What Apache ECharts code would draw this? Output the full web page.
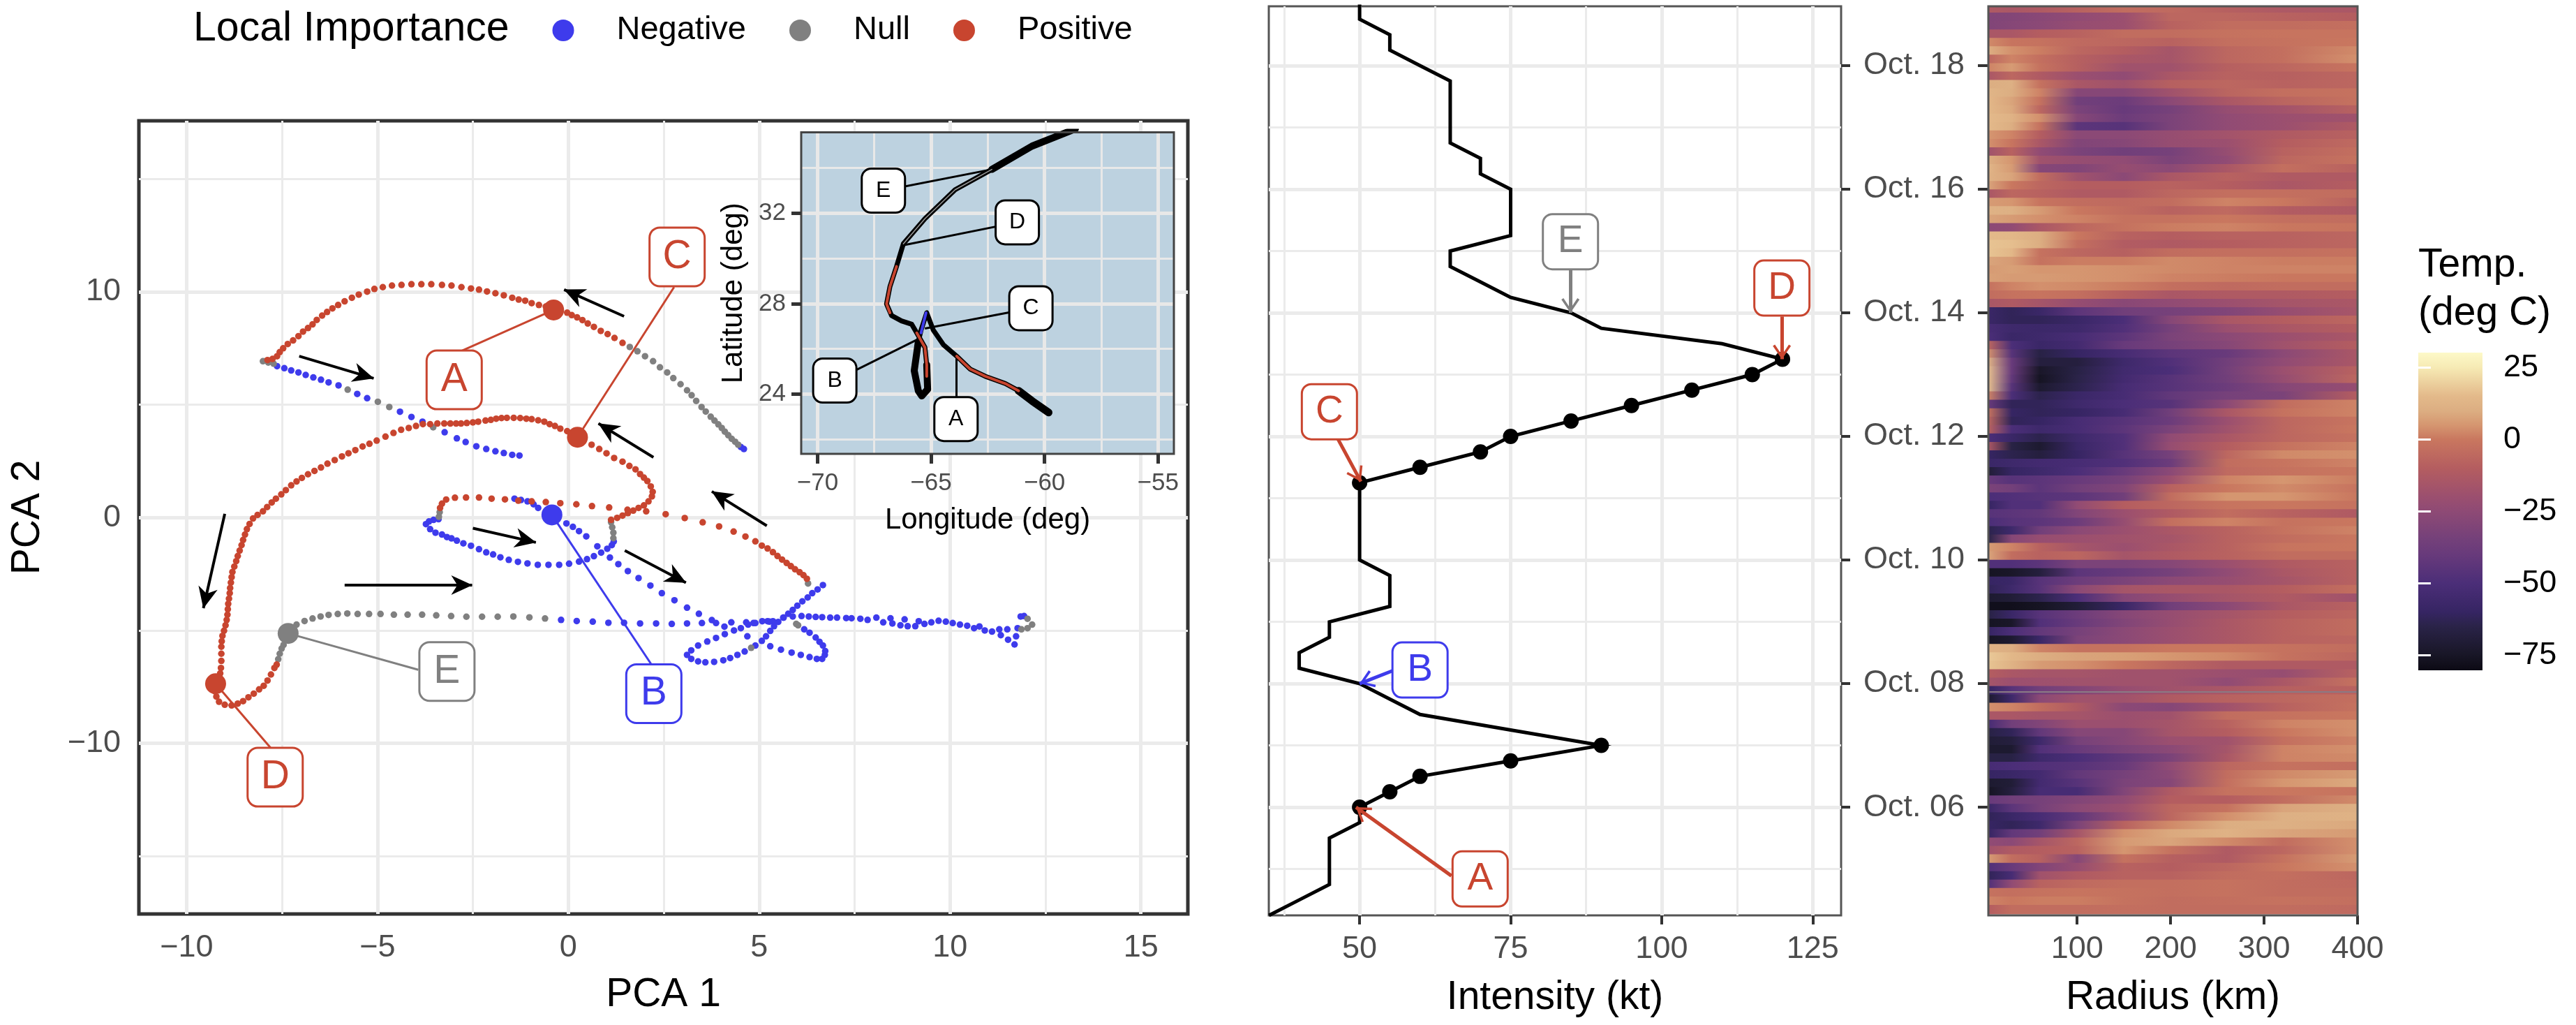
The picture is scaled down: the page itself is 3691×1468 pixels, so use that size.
<!DOCTYPE html>
<html>
<head>
<meta charset="utf-8">
<title>Local importance, intensity and radial temperature</title>
<style>
  html, body { margin: 0; padding: 0; background: #fff; }
  #chart { width: 3691px; height: 1468px; }
</style>
<script src="https://cdn.jsdelivr.net/npm/echarts@6/dist/echarts.min.js"></script>
</head>
<body>
<div id="chart"></div>
<script>
"use strict";

var RED = "#c8452f", BLUE = "#3e3bec", GREY = "#808080";
var FONT = "Liberation Sans";

// ---- PCA panel: points, grouped by local importance
var pcaNegative = [
  [4.52,3.13],[4.60,3.04],
  [-7.63,6.71],[-7.44,6.62],[-7.26,6.52],[-7.07,6.43],[-6.88,6.32],[-6.68,6.21],[-6.48,6.11],[-6.28,5.99],[-6.02,5.86],
  [-5.53,5.48],[-5.27,5.29],[-4.41,4.69],[-4.11,4.46],[-3.82,4.25],[-3.24,3.78],[-2.92,3.51],[-2.69,3.35],[-2.41,3.16],
  [-2.15,3.04],[-1.91,2.94],[-1.69,2.86],[-1.47,2.78],[-1.28,2.75],
  [-1.41,0.84],[-1.24,0.78],[-1.07,0.72],[-0.91,0.59],[-0.79,0.43],
  [-0.05,-0.26],[0.12,-0.41],[0.28,-0.60],[0.47,-0.83],[0.76,-1.27],[1.09,-1.77],[1.31,-2.06],[1.56,-2.37],[1.84,-2.68],
  [2.15,-3.01],[2.45,-3.35],[2.78,-3.66],[3.11,-3.99],[3.42,-4.26],[3.76,-4.54],[3.87,-4.67],[4.09,-4.83],[4.69,-5.26],
  [5.29,-5.70],[5.57,-5.85],[5.85,-5.98],[6.09,-6.08],[6.32,-6.18],[6.51,-6.26],[6.65,-6.26],[6.72,-6.08],[6.73,-5.91],
  [6.67,-5.67],[6.58,-5.50],[6.48,-5.31],[6.32,-5.10],[6.18,-4.95],
  [-3.40,-0.07],[-3.53,-0.10],[-3.65,-0.17],[-3.73,-0.29],[-3.62,-0.51],[-3.48,-0.67],[-3.31,-0.75],[-3.18,-0.86],[-3.06,-0.92],
  [-2.92,-1.02],[-2.75,-1.14],[-2.55,-1.25],[-2.34,-1.40],[-2.15,-1.54],[-1.97,-1.63],[-1.78,-1.76],[-1.56,-1.87],[-1.32,-1.96],
  [-1.07,-2.03],[-0.80,-2.09],[-0.52,-2.09],[-0.24,-2.09],[0.02,-2.04],[0.28,-1.95],[0.49,-1.84],[0.67,-1.71],[0.86,-1.55],
  [1.02,-1.38],[1.14,-1.22],[1.19,-1.06],
  [-0.19,-4.53],[0.22,-4.58],[0.64,-4.61],[1.05,-4.66],[1.46,-4.66],[1.88,-4.69],[2.30,-4.69],[2.71,-4.71],[3.11,-4.69],[3.50,-4.67],
  [4.27,-4.64],[4.66,-4.64],[4.85,-4.67],[5.08,-4.59],[5.22,-4.59],[5.36,-4.59],[5.64,-4.43],[5.88,-4.38],[6.11,-4.36],[6.30,-4.38],
  [6.48,-4.40],[6.65,-4.41],[6.86,-4.43],[7.04,-4.43],[7.28,-4.45],[7.42,-4.46],[7.65,-4.48],[7.84,-4.53],[8.07,-4.43],[8.25,-4.64],
  [8.44,-4.46],[8.49,-4.69],[8.70,-4.77],[8.81,-4.51],[8.89,-4.81],[9.09,-4.81],[9.18,-4.59],[9.33,-4.71],[9.51,-4.64],[9.70,-4.57],
  [9.89,-4.61],[10.07,-4.67],[10.26,-4.74],[10.45,-4.79],[10.63,-4.90],[10.77,-4.82],[10.91,-5.00],[11.10,-5.05],[11.29,-4.95],
  [11.33,-5.21],[11.50,-4.95],[11.52,-5.41],[11.69,-5.62],[11.73,-5.26],[11.77,-4.90],[11.85,-4.38],[11.94,-4.36],
  [6.67,-2.99],[6.53,-3.18],[6.39,-3.35],[6.27,-3.54],[6.13,-3.71],[6.00,-3.90],[5.88,-4.09],[5.76,-4.26],[5.63,-4.43],[5.50,-4.62],
  [5.39,-4.81],[5.29,-5.02],[5.18,-5.26],[5.07,-5.46],[4.90,-5.67],[4.62,-5.93],[4.43,-6.08],[4.24,-6.22],[4.06,-6.32],[3.82,-6.39],
  [3.59,-6.41],[3.40,-6.37],[3.22,-6.26],[3.11,-6.08],[3.22,-5.88],[3.40,-5.67],[3.64,-5.49],[3.87,-5.33],[4.10,-5.16],[4.34,-5.00],
  [4.52,-4.90],[4.71,-4.74],[4.90,-4.67],[5.27,-4.61]
];
var pcaNull = [
  [1.61,7.56],[1.81,7.37],[2.01,7.15],[2.22,6.93],[2.40,6.66],[2.59,6.43],[2.75,6.18],[2.94,5.91],[3.11,5.64],[3.23,5.42],[3.35,5.17],
  [3.49,4.90],[3.60,4.70],[3.73,4.47],[3.83,4.30],[3.93,4.13],[4.02,3.97],[4.10,3.81],[4.19,3.65],[4.28,3.49],[4.37,3.36],[4.45,3.23],
  [-8.00,6.93],[-7.86,6.87],[-7.72,6.82],
  [-5.78,5.67],[-4.99,5.13],[-4.69,4.90],[-3.54,4.00],
  [-7.60,-6.27],[-7.56,-6.03],[-7.51,-5.80],[-7.46,-5.64],
  [-7.12,-4.74],[-6.91,-4.58],[-6.70,-4.47],[-6.49,-4.38],[-6.28,-4.31],[-6.04,-4.27],[-5.79,-4.25],[-5.52,-4.27],[-5.22,-4.27],
  [-4.92,-4.27],[-4.57,-4.30],[-4.21,-4.30],[-3.83,-4.30],[-3.46,-4.33],[-3.07,-4.36],[-2.67,-4.39],[-2.26,-4.39],[-1.85,-4.39],
  [-1.44,-4.38],[-1.02,-4.42],[-0.61,-4.47],
  [1.18,-0.91],[1.18,-0.67],[1.15,-0.43],[1.12,-0.20],
  [-3.39,0.04],[-3.37,0.24],
  [6.28,-2.92],[6.02,-4.77],[5.97,-4.71],[4.79,-5.77],
  [12.03,-4.48],[12.15,-4.74],[12.03,-4.90],[11.87,-4.95]
];
var pcaPositive = [
  [1.42,7.74],[1.21,7.96],[1.03,8.13],[0.85,8.27],[0.67,8.45],[0.51,8.60],[0.37,8.75],[0.23,8.87],[0.09,8.97],[-0.03,9.08],
  [-0.59,9.35],[-0.77,9.42],[-0.96,9.50],[-1.13,9.61],[-1.30,9.66],[-1.47,9.74],[-1.69,9.85],[-1.91,9.94],[-2.13,10.02],[-2.34,10.10],
  [-2.55,10.15],[-2.80,10.21],[-3.06,10.28],[-3.31,10.31],[-3.59,10.34],[-3.85,10.34],[-4.11,10.34],[-4.37,10.31],[-4.62,10.28],
  [-4.86,10.21],[-5.08,10.13],[-5.27,10.01],[-5.49,9.88],[-5.67,9.74],[-5.86,9.58],[-6.03,9.42],[-6.18,9.27],[-6.32,9.11],[-6.45,8.95],
  [-6.59,8.76],[-6.70,8.56],[-6.82,8.40],[-6.95,8.24],[-7.07,8.04],[-7.21,7.85],[-7.35,7.69],[-7.47,7.50],[-7.56,7.33],[-7.63,7.15],
  [-7.75,7.03],[-7.88,6.98],
  [1.12,-0.10],[1.28,-0.01],[1.42,0.09],[1.56,0.20],[1.70,0.31],[1.84,0.43],[1.98,0.54],[2.10,0.72],[2.19,0.94],[2.21,1.14],[2.16,1.38],
  [2.07,1.62],[1.98,1.77],[1.88,1.93],[1.76,2.14],[1.60,2.29],[1.42,2.48],[1.20,2.64],[1.00,2.85],[0.81,3.04],[0.61,3.23],
  [-0.03,3.83],[-0.21,3.94],[-0.35,4.06],[-0.49,4.14],[-0.63,4.25],[-0.79,4.31],[-0.96,4.36],[-1.10,4.38],[-1.26,4.41],[-1.43,4.42],
  [-1.61,4.42],[-1.75,4.41],[-1.89,4.38],[-2.03,4.33],[-2.17,4.30],[-2.36,4.25],[-2.50,4.22],[-2.66,4.19],[-2.81,4.17],[-2.94,4.17],
  [-3.09,4.17],[-3.25,4.17],[-3.43,4.17],[-3.62,4.14],[-3.81,4.14],[-3.99,4.06],[-4.18,3.97],[-4.38,3.89],[-4.58,3.75],[-4.79,3.59],
  [-5.02,3.41],[-5.21,3.27],[-5.39,3.15],[-5.58,2.99],[-5.76,2.85],[-5.93,2.71],[-6.12,2.55],[-6.31,2.39],[-6.48,2.22],[-6.65,2.07],
  [-6.82,1.92],[-6.98,1.76],[-7.12,1.60],[-7.26,1.43],[-7.40,1.22],[-7.52,1.03],[-7.66,0.84],[-7.77,0.67],[-7.89,0.47],[-8.00,0.28],
  [-8.14,0.12],[-8.26,-0.04],[-8.35,-0.28],[-8.42,-0.51],[-8.47,-0.75],[-8.52,-0.99],[-8.56,-1.22],[-8.61,-1.46],[-8.66,-1.70],
  [-8.70,-1.93],[-8.75,-2.17],[-8.80,-2.41],[-8.82,-2.64],[-8.84,-2.88],[-8.86,-3.12],[-8.87,-3.35],[-8.89,-3.59],[-8.91,-3.82],
  [-8.92,-4.06],[-8.93,-4.30],[-8.95,-4.53],[-8.98,-4.77],[-9.02,-5.01],[-9.06,-5.24],[-9.08,-5.48],[-9.09,-5.72],[-9.09,-6.03],
  [-9.09,-6.35],[-9.10,-6.66],[-9.12,-6.90],[-9.26,-7.69],[-9.22,-7.93],[-9.15,-8.16],[-9.00,-8.29],[-8.82,-8.32],[-8.66,-8.24],
  [-8.52,-8.13],[-8.38,-7.96],[-8.24,-7.80],[-8.10,-7.61],[-7.98,-7.45],[-7.88,-7.22],[-7.79,-6.95],[-7.70,-6.66],[-7.64,-6.51],
  [-3.36,0.43],[-3.31,0.62],[-3.20,0.80],[-2.97,0.88],[-2.68,0.89],[-2.34,0.89],[-2.01,0.84],[-1.66,0.81],[-1.31,0.75],[-0.96,0.72],
  [-0.59,0.69],[-0.21,0.64],[0.21,0.59],[0.62,0.51],[1.07,0.45],[1.55,0.35],[2.04,0.28],[2.55,0.15],[3.05,-0.02],[3.52,-0.21],
  [3.95,-0.39],[4.33,-0.62],[4.64,-0.84],[4.90,-1.05],[5.07,-1.24],[5.22,-1.37],[5.36,-1.53],[5.48,-1.70],[5.60,-1.86],[5.72,-2.01],
  [5.83,-2.15],[5.94,-2.29],[6.06,-2.42],[6.16,-2.55],[6.25,-2.71]
];

var pcaKeyNames = ["A", "B", "C", "D", "E"];
var pcaKeyPoints = [[-0.385, 9.2], [-0.43, 0.12], [0.24, 3.56], [-9.24, -7.36], [-7.34, -5.13]];
var pcaKeyColors = [RED, BLUE, RED, RED, GREY];
var pcaBoxes = [[-2.99, 6.1], [2.24, -7.8], [2.85, 11.55], [-7.68, -11.5], [-3.18, -6.82]];
var pcaBoxAnchors = [[-2.78, 7.4], [2.19, -6.54], [2.77, 10.21], [-7.8, -10.2], [-3.93, -6.74]];

var pcaArrows = [
  [[1.46, 8.92], [-0.11, 10.1]],
  [[-7.05, 7.15], [-5.1, 6.17]],
  [[2.23, 2.67], [0.79, 4.17]],
  [[-9, 0.17], [-9.56, -4.01]],
  [[-5.86, -2.99], [-2.52, -2.99]],
  [[-2.5, -0.47], [-0.85, -1.1]],
  [[1.48, -1.46], [3.08, -2.88]],
  [[5.2, -0.36], [3.76, 1.16]]
];

var pcaXTicks = [-10, -5, 0, 5, 10, 15];
var pcaXMinor = [-7.5, -2.5, 2.5, 7.5, 12.5];
var pcaYTicks = [-10, 0, 10];
var pcaYMinor = [-15, -5, 5, 15];

// ---- inset map: storm track (lon, lat)
var trackAll = [
  [-59.82,23.19],[-60.55,23.70],[-61.14,24.15],[-61.73,24.47],[-62.61,24.79],[-63.28,25.11],[-63.87,25.68],[-64.46,26.19],
  [-64.90,26.83],[-65.19,27.60],[-65.44,26.83],[-65.56,26.32],[-65.74,25.04],[-65.56,24.15],[-65.41,23.92],[-65.15,24.21],
  [-65.19,25.30],[-65.27,26.07],[-65.63,26.71],[-65.85,27.09],[-66.30,27.24],[-66.74,27.48],[-66.96,27.99],[-66.81,28.76],
  [-66.52,29.65],[-66.22,30.65],[-65.27,31.76],[-63.94,33.04],[-62.32,33.94],[-60.55,34.97],[-58.64,35.73]
];
var trackHeavyStart = [[-59.82,23.19],[-60.55,23.70],[-61.14,24.15]];
var trackHeavyLoop = [[-65.56,26.32],[-65.74,25.04],[-65.56,24.15],[-65.41,23.92],[-65.15,24.21],[-65.19,25.30]];
var trackHeavyEnd = [[-62.32,33.94],[-60.55,34.97],[-58.64,35.73]];
var trackRedA = [[-61.14,24.15],[-61.73,24.47],[-62.61,24.79],[-63.28,25.11],[-63.87,25.68]];
var trackRedB = [[-65.19,24.79],[-65.19,25.30],[-65.27,26.07],[-65.63,26.71]];
var trackRedC = [[-66.81,27.60],[-66.96,27.99],[-66.81,28.76],[-66.52,29.65]];
var trackBlue = [[-65.22,27.60],[-65.44,26.71]];
var trackGrey = [[-66.22,30.65],[-65.27,31.76],[-63.94,33.04],[-62.32,33.94]];

var insetBoxes = [[-63.9, 22.9], [-69.24, 24.6], [-60.6, 27.8], [-61.2, 31.6], [-67.1, 33.0]];
var insetTips = [[-63.9, 25.7], [-65.44, 26.5], [-65.27, 26.9], [-66.15, 30.6], [-62.32, 33.94]];
var insetXTicks = [-70, -65, -60, -55];
var insetXMinor = [-67.5, -62.5, -57.5];
var insetYTicks = [24, 28, 32];
var insetYMinor = [22, 26, 30, 34];

// ---- intensity panel
var intensityDays = [4.25,4.5,4.75,5,5.25,5.5,5.75,6,6.25,6.5,6.75,7,7.25,7.5,7.75,8,8.25,8.5,8.75,9,9.25,9.5,9.75,10,10.25,10.5,10.75,11,11.25,
  11.5,11.75,12,12.25,12.5,12.75,13,13.25,13.5,13.75,14,14.25,14.5,14.75,15,15.25,15.5,15.75,16,16.25,16.5,16.75,17,17.25,17.5,17.75,18,18.25,18.5,18.75,19];
var intensityKt = [35,40,45,45,45,45,50,50,55,60,75,90,75,60,55,50,40,40,45,45,55,55,55,50,50,50,50,50,50,
  60,70,75,85,95,105,115,120,110,90,85,75,70,65,65,75,75,75,75,70,70,65,65,65,65,65,60,55,55,50,50];
var markedDays = [6,6.25,6.5,6.75,7,11.25,11.5,11.75,12,12.25,12.5,12.75,13,13.25];
var markedKt = [50,55,60,75,90,50,60,70,75,85,95,105,115,120];

var intensityTicks = [50, 75, 100, 125];
var intensityMinor = [37.5, 62.5, 87.5, 112.5];
var dayTicks = [6, 8, 10, 12, 14, 16, 18];
var dayLabels = ["Oct. 06", "Oct. 08", "Oct. 10", "Oct. 12", "Oct. 14", "Oct. 16", "Oct. 18"];
var dayMinor = [5, 7, 9, 11, 13, 15, 17];

var eventNames = ["A", "B", "C", "D", "E"];
var eventColors = [RED, BLUE, RED, RED, GREY];
var eventBoxes = [[69.95, 4.84], [60, 8.22], [45, 12.4], [119.9, 14.4], [84.9, 15.15]];
var eventStarts = [[65.2, 4.89], [55.5, 8.21], [46.4, 11.96], [119.9, 13.94], [84.9, 14.71]];
var eventTips = [[49.4, 6], [50, 8], [50.2, 11.27], [119.9, 13.25], [84.9, 14]];

// ---- radial temperature panel: rows from the top of the panel down, columns at radiusKm
var radiusKm = [5, 30, 60, 100, 150, 200, 260, 320, 400];
var radiusTicks = [100, 200, 300, 400];
var dayMin = 4.25, dayMax = 18.96;
var tempRows = [
  [-12,-14,-12,-8,-4,-5,-9,-13,-14],
  [-30,-29,-27,-24,-20,-6,-6,-8,-10],
  [-30,-28,-26,-22,-20,-8,-4,-4,-3],
  [-14,-14,-10,-8,-4,-4,-2,-1,-1],
  [3,-1,-2,-5,-6,-8,-3,-2,0],
  [10,4,1,-6,-10,-16,-6,-3,3],
  [-6,2,-3,-9,-14,-16,-6,-3,4],
  [2,6,-2,-9,-18,-18,-9,-6,-1],
  [-14,-6,-12,-20,-24,-14,-8,-9,-6],
  [10,11,-2,-14,-18,-9,-6,-8,-6],
  [13,10,2,-28,-28,-18,-7,-3,-2],
  [14,8,-2,-36,-38,-26,-14,-7,-2],
  [14,9,-6,-32,-40,-34,-22,-17,-8],
  [15,12,4,-28,-38,-32,-24,-20,-18],
  [15,10,-2,-44,-46,-32,-24,-20,-12],
  [5,2,-10,-26,-26,-22,-17,-12,-8],
  [4,-1,-14,-30,-28,-22,-20,-10,-5],
  [-18,-8,-24,-32,-36,-34,-22,-8,-3],
  [10,5,-18,-22,-24,-32,-24,-6,-2],
  [13,6,-28,-30,-22,-26,-14,-3,-8],
  [12,8,-4,-18,-26,-14,-8,-12,-12],
  [8,0,-6,-10,-10,-8,-10,-14,-10],
  [-14,-6,-8,-12,-12,-6,-3,-3,-4],
  [6,5,-1,-4,-5,-4,2,0,-8],
  [12,11,6,0,-4,-8,-5,-11,-12],
  [8,6,4,2,-2,-2,0,-3,-4],
  [-26,-24,-14,-6,-2,1,2,0,-1],
  [15,14,10,0,-8,-10,-8,-8,-6],
  [17,16,10,-3,-11,-12,-10,-8,-6],
  [17,14,-2,-6,-9,-4,-3,-3,-2],
  [8,6,-2,1,1,3,2,1,1],
  [6,7,5,5,4,3,2,2,2],
  [7,6,6,5,4,2,1,0,0],
  [-2,2,4,3,1,-3,-5,-4,-4],
  [-4,-2,-1,-3,-9,-14,-12,-12,-10],
  [-14,-12,-16,-22,-27,-24,-20,-16,-14],
  [-58,-62,-58,-44,-36,-34,-30,-22,-15],
  [-58,-62,-62,-58,-50,-28,-14,-10,-6],
  [-52,-56,-57,-56,-48,-34,-20,-14,-10],
  [-50,-58,-56,-52,-44,-32,-26,-20,-14],
  [-6,-50,-58,-54,-40,-34,-28,-18,-10],
  [4,-46,-66,-60,-52,-44,-40,-26,-14],
  [12,-40,-68,-68,-56,-48,-36,-24,-14],
  [16,-40,-74,-66,-55,-50,-35,-20,-8],
  [16,-42,-76,-65,-54,-46,-36,-22,-6],
  [16,-46,-72,-64,-52,-46,-38,-28,-22],
  [2,-50,-64,-58,-52,-42,-34,-32,-10],
  [-40,-62,-62,-56,-50,-46,-26,-4,2],
  [-2,-60,-62,-60,-52,-36,-14,-2,2],
  [-6,-62,-60,-52,-46,-38,-20,-6,-1],
  [-8,-50,-56,-52,-44,-32,-18,-6,0],
  [-50,-58,-64,-56,-48,-24,-14,-6,-2],
  [-14,-66,-72,-58,-48,-22,-10,-2,2],
  [-60,-64,-68,-60,-46,-34,-6,3,4],
  [-58,-56,-54,-52,-48,-38,-4,-1,2],
  [-70,-60,-56,-50,-40,-26,-5,-2,0],
  [-40,-46,-44,-40,-34,-20,2,5,1],
  [-32,-35,-44,-36,-30,-8,0,3,-1],
  [-50,-48,-46,-44,-36,-4,5,5,0],
  [-60,-48,-48,-24,-10,-6,-1,0,-2],
  [-46,-44,-42,-30,-20,-12,-4,-8,-12],
  [-50,-46,-44,-38,-22,-3,2,-2,0],
  [-64,-56,-36,-26,-20,-14,-8,-2,2],
  [-65,-28,-22,-20,-18,-16,-8,-4,0],
  [6,2,-8,-16,-20,-14,-8,-1,0],
  [8,-4,-8,-6,-16,-12,-8,-4,-4],
  [-48,-48,-44,-32,-32,-28,-20,-12,-8],
  [-76,-74,-68,-44,-40,-34,-24,-14,-8],
  [-60,-58,-46,-38,-32,-26,-22,-16,-8],
  [-62,-56,-46,-26,-16,-14,-14,-10,-3],
  [-72,-70,-64,-50,-28,-22,-16,-12,-18],
  [-78,-78,-76,-70,-58,-36,-26,-14,-8],
  [-66,-58,-46,-38,-28,-22,-16,-10,-6],
  [-76,-74,-48,-40,-30,-22,-14,-8,-4],
  [-60,-50,-42,-34,-26,-20,-14,-8,-4],
  [-76,-72,-58,-32,-26,-20,-14,-8,-6],
  [12,10,2,-2,-2,0,0,-2,-4],
  [18,14,10,8,7,5,3,-2,-6],
  [17,12,6,4,0,-6,-12,-12,-12],
  [-10,-14,-16,-16,-18,-18,-20,-22,-8],
  [-16,-20,-19,-18,-18,-18,-24,-14,-2],
  [-60,-46,-36,-30,-22,-18,-14,-9,-8],
  [-72,-56,-26,-18,-18,-12,-8,-6,-3],
  [4,2,-4,-12,-26,-28,-18,-8,-2],
  [-14,-14,-16,-16,-20,-18,-4,-2,0],
  [-52,-36,-30,-20,-20,-16,-8,2,4],
  [-66,-62,-42,-28,-28,-16,-10,0,4],
  [-70,-68,-56,-34,-28,-20,-18,-3,2],
  [-72,-72,-48,-40,-32,-26,-16,2,4],
  [-66,-66,-56,-50,-42,-32,-14,2,3],
  [-52,-50,-48,-46,-40,-24,-6,-2,-3],
  [-60,-58,-54,-42,-34,-26,-4,3,6],
  [-72,-70,-54,-46,-32,-28,-3,5,9],
  [-76,-68,-52,-52,-30,-12,-2,0,-1],
  [-40,-36,-34,-30,-24,-10,-10,-4,3],
  [-58,-44,-34,-26,-20,-6,-2,8,11],
  [-62,-58,-52,-42,-24,-6,4,11,12],
  [-60,-62,-56,-32,-8,3,10,11,9],
  [-60,-42,-36,-16,4,9,12,8,6],
  [-24,-26,-16,-6,6,8,3,-4,4],
  [-18,-12,-10,-8,5,-2,-12,-6,4],
  [6,-4,-8,-28,-2,-9,-12,-2,6],
  [-48,-40,-30,-22,-8,-10,-6,0,4],
  [-62,-52,-18,-12,-8,-8,-4,-3,-6],
  [-48,-24,-8,-5,-3,-3,-2,-4,-5],
  [-2,-3,-2,-1,-2,-3,-2,-4,-4],
  [2,0,1,1,-2,-4,-3,-2,-3],
  [-10,-4,-4,-4,-3,-4,-4,-4,-5]
];
var missingScanDay = 7.87;

// colour bar
var tempTicks = [-75, -50, -25, 0, 25];
var tempMin = -80.3, tempMax = 30.2;
var paletteValues = [-80.3, -75, -65, -60, -50, -40, -35, -25, -20, -10, 0, 5, 10, 15, 25, 30.2];
var paletteColors = ["#0c0a14", "#181626", "#2a2348", "#362563", "#4b2e78", "#683a7b", "#73407a", "#8e4a75",
  "#9b4f6f", "#b45d60", "#c9775f", "#d59670", "#dcae82", "#e3b98a", "#f6eab4", "#fdf9c8"];

// arrow heads: the two zero-area strokes square the path's box so the tip sits on the line end
var CLOSED_HEAD = "path://M-30,0 L30,0 Z M0,-30 L0,30 Z M0,0 L14,31 L0,22 L-14,31 Z";
var OPEN_HEAD = "path://M-30,0 L30,0 Z M0,-30 L0,30 Z M0,0 L13,19 L10,21 L0,6 L-10,21 L-13,19 Z";

function tempColor(v) {
  for (var i = 1; i < paletteValues.length; i++) {
    if (v <= paletteValues[i]) {
      var t = (v - paletteValues[i - 1]) / (paletteValues[i] - paletteValues[i - 1]);
      return echarts.color.lerp(Math.max(t, 0), [paletteColors[i - 1], paletteColors[i]]);
    }
  }
  return paletteColors[paletteColors.length - 1];
}

function minusSign(v) {
  return String(v).replace("-", "\u2212");
}

// background grid lines, drawn as a mark line so they can stack with the inset
function gridLines(name, xi, yi, lines, color, z) {
  var data = [];
  lines.xMajor.forEach(function (v) { data.push({ xAxis: v, lineStyle: { width: lines.major, color: color, type: "solid" } }); });
  lines.xMinor.forEach(function (v) { data.push({ xAxis: v, lineStyle: { width: lines.minor, color: color, type: "solid" } }); });
  lines.yMajor.forEach(function (v) { data.push({ yAxis: v, lineStyle: { width: lines.major, color: color, type: "solid" } }); });
  lines.yMinor.forEach(function (v) { data.push({ yAxis: v, lineStyle: { width: lines.minor, color: color, type: "solid" } }); });
  return {
    name: name, type: "scatter", xAxisIndex: xi, yAxisIndex: yi, data: [], silent: true, z: z,
    markLine: { silent: true, symbol: "none", z: z, animation: false, label: { show: false }, emphasis: { disabled: true }, data: data }
  };
}

function segments(name, xi, yi, pairs, opts) {
  return {
    name: name, type: "scatter", xAxisIndex: xi, yAxisIndex: yi, data: [], silent: true, z: opts.z,
    markLine: {
      silent: true, animation: false, z: opts.z, precision: 4,
      symbol: opts.symbol || "none", symbolSize: opts.symbolSize || 0,
      label: { show: false }, emphasis: { disabled: true },
      data: pairs.map(function (p, i) {
        return [
          { coord: p[0], symbol: "none" },
          { coord: p[1], lineStyle: { color: opts.colors ? opts.colors[i] : opts.color, width: opts.width, type: "solid", opacity: 1 } }
        ];
      })
    }
  };
}

function boxes(name, xi, yi, names, points, colors, st) {
  return {
    name: name, type: "scatter", xAxisIndex: xi, yAxisIndex: yi, symbolSize: 1, z: st.z, silent: true,
    itemStyle: { color: "rgba(0,0,0,0)", opacity: 1 },
    data: points.map(function (p, i) {
      return {
        name: names[i], value: p,
        label: {
          show: true, position: "inside", formatter: "{b}", fontFamily: FONT, fontSize: st.fontSize,
          color: colors[i], borderColor: colors[i], borderWidth: st.border, borderRadius: st.radius,
          backgroundColor: "#fff", width: st.width, height: st.height, lineHeight: st.height,
          align: "center", verticalAlign: "middle"
        }
      };
    })
  };
}

function trackLine(name, data, color, width, z) {
  return {
    name: name, type: "line", xAxisIndex: 1, yAxisIndex: 1, data: data, showSymbol: false, silent: true, z: z,
    lineStyle: { color: color, width: width, cap: "round", join: "round" }
  };
}

function dots(name, data, color) {
  return {
    name: name, type: "scatter", xAxisIndex: 0, yAxisIndex: 0, data: data, symbolSize: 9.5, z: 4, silent: true,
    itemStyle: { color: color, opacity: 1 }
  };
}

function pairUp(a, b) {
  return a.map(function (v, i) { return [v, b[i]]; });
}

function frameOf(name, xi, yi, color, width, z) {
  return {
    name: name, type: "custom", xAxisIndex: xi, yAxisIndex: yi, data: [[0, 0]], z: z, silent: true, clip: false,
    renderItem: function (params) {
      var c = params.coordSys;
      return { type: "rect", shape: { x: c.x, y: c.y, width: c.width, height: c.height }, style: { fill: "none", stroke: color, lineWidth: width } };
    }
  };
}

// every row is painted twice, half a row apart, to soften the steps between rows
var heatSeries = {
  name: "Temperature", type: "custom", xAxisIndex: 3, yAxisIndex: 3, silent: true, z: 2, clip: true,
  data: tempRows.map(function (row, i) { return [i]; }),
  encode: { x: [], y: [] },
  renderItem: function (params, api) {
    var i = api.value(0), step = (dayMax - dayMin) / tempRows.length;
    var a = api.coord([radiusKm[0], dayMax - i * step]);
    var b = api.coord([radiusKm[radiusKm.length - 1], dayMax - (i + 1) * step]);
    var span = radiusKm[radiusKm.length - 1] - radiusKm[0];
    var h = b[1] - a[1];
    var fill = new echarts.graphic.LinearGradient(0, 0, 1, 0, radiusKm.map(function (r, k) {
      return { offset: (r - radiusKm[0]) / span, color: tempColor(tempRows[i][k]) };
    }));
    return {
      type: "group",
      children: [
        { type: "rect", shape: { x: a[0], y: a[1] - h / 4, width: b[0] - a[0], height: h + 1 }, style: { fill: fill } },
        { type: "rect", shape: { x: a[0], y: a[1] + h / 4, width: b[0] - a[0], height: h + 1 }, style: { fill: fill, opacity: 0.5 } }
      ]
    };
  }
};

var colourBarSeries = {
  name: "Colour bar", type: "custom", xAxisIndex: 4, yAxisIndex: 4, silent: true, z: 2,
  data: [[0, tempMax]],
  renderItem: function (params) {
    var c = params.coordSys;
    return {
      type: "rect",
      shape: { x: c.x, y: c.y, width: c.width, height: c.height },
      style: {
        fill: new echarts.graphic.LinearGradient(0, 1, 0, 0, paletteValues.map(function (v, k) {
          return { offset: (v - tempMin) / (tempMax - tempMin), color: paletteColors[k] };
        }))
      }
    };
  }
};

function axisBase(min, max, ticks, st) {
  return {
    type: "value", min: min, max: max, scale: true, z: st.z || 0,
    splitLine: { show: false },
    axisLine: { show: false },
    axisTick: { show: st.tick !== false, customValues: ticks, length: st.tickLen || 15, lineStyle: { color: "#333", width: st.tickWidth || 5 } },
    axisLabel: {
      show: st.label !== false, customValues: ticks, fontFamily: FONT, fontSize: st.fontSize || 45, color: "#4d4d4d",
      margin: st.margin || 26, formatter: st.formatter || minusSign, hideOverlap: false, showMinLabel: true, showMaxLabel: true,
      padding: st.labelPad || 0
    },
    name: st.name || "", nameLocation: "middle", nameGap: st.nameGap || 0,
    nameTextStyle: { fontFamily: FONT, fontSize: st.nameSize || 57, color: "#000" }
  };
}

var option = {
  animation: false,
  backgroundColor: "#fff",
  textStyle: { fontFamily: FONT },
  legend: {
    left: 791.5, top: 20, padding: 0, itemWidth: 31, itemHeight: 31, itemGap: 62, icon: "circle", selectedMode: false,
    textStyle: { fontFamily: FONT, fontSize: 47, color: "#000", padding: [0, 0, 0, 56] },
    data: ["Negative", "Null", "Positive"]
  },
  graphic: [
    { type: "text", left: 277, top: 12, style: { text: "Local Importance", font: "59px " + FONT, fill: "#000" } },
    { type: "text", left: 3465, top: 352, style: { text: "Temp.", font: "57px " + FONT, fill: "#000" } },
    { type: "text", left: 3465, top: 421, style: { text: "(deg C)", font: "57px " + FONT, fill: "#000" } }
  ],
  grid: [
    { left: 199, top: 173, width: 1503, height: 1136, show: true, borderColor: "#333", borderWidth: 5, backgroundColor: "transparent" },
    { left: 1148, top: 189.5, width: 534, height: 460.5, show: false },
    { left: 1818, top: 9, width: 820, height: 1302, show: true, borderColor: "#555", borderWidth: 3, backgroundColor: "transparent" },
    { left: 2849, top: 9, width: 529, height: 1302, show: false },
    { left: 3465, top: 505, width: 92, height: 455, show: false }
  ],
  xAxis: [
    Object.assign(axisBase(-11.25, 16.23, pcaXTicks, { name: "PCA 1", nameGap: 88 }), { gridIndex: 0 }),
    Object.assign(axisBase(-70.72, -54.3, insetXTicks, { name: "Longitude (deg)", nameSize: 42, fontSize: 35, tickLen: 14, margin: 25, nameGap: 74, z: 20 }), { gridIndex: 1 }),
    Object.assign(axisBase(34.97, 129.7, intensityTicks, { name: "Intensity (kt)", nameGap: 90, tickLen: 13, tickWidth: 4 }), { gridIndex: 2 }),
    Object.assign(axisBase(5, 400, radiusTicks, { name: "Radius (km)", nameGap: 90, tickLen: 13, tickWidth: 4 }), { gridIndex: 3 }),
    Object.assign(axisBase(0, 1, [], { tick: false, label: false }), { gridIndex: 4, show: false })
  ],
  yAxis: [
    Object.assign(axisBase(-17.56, 17.58, pcaYTicks, { name: "PCA 2", nameGap: 130, labelPad: [5, 0, 0, 0] }), { gridIndex: 0 }),
    Object.assign(axisBase(21.36, 35.58, insetYTicks, { name: "Latitude (deg)", nameSize: 42, fontSize: 35, tickLen: 14, margin: 22, nameGap: 76, z: 20, labelPad: [4, 0, 0, 0] }), { gridIndex: 1 }),
    Object.assign(axisBase(4.25, 18.96, dayTicks, {
      tickLen: 13, tickWidth: 4, margin: 32, labelPad: [6, 0, 0, 0],
      formatter: function (v) { return dayLabels[dayTicks.indexOf(v)]; }
    }), { gridIndex: 2, position: "right" }),
    Object.assign(axisBase(4.25, 18.96, dayTicks, { label: false, tickLen: 15, tickWidth: 4 }), { gridIndex: 3 }),
    {
      type: "value", gridIndex: 4, min: tempMin, max: tempMax, position: "right", z: 8,
      splitLine: { show: false }, axisLine: { show: false },
      axisTick: { show: true, inside: true, length: 18, customValues: tempTicks, lineStyle: { color: "#fff", width: 3 } },
      axisLabel: { customValues: tempTicks, fontFamily: FONT, fontSize: 45, color: "#000", margin: 30, formatter: minusSign, padding: [5, 0, 0, 0] }
    },
    {
      type: "value", gridIndex: 4, min: tempMin, max: tempMax, position: "left", z: 8,
      splitLine: { show: false }, axisLine: { show: false }, axisLabel: { show: false },
      axisTick: { show: true, inside: true, length: 18, customValues: tempTicks, lineStyle: { color: "#fff", width: 3 } }
    }
  ],
  series: [
    // main panel
    gridLines("PCA grid", 0, 0, { xMajor: pcaXTicks, xMinor: pcaXMinor, yMajor: pcaYTicks, yMinor: pcaYMinor, major: 5, minor: 3 }, "#ebebeb", 1),
    dots("Negative", pcaNegative, BLUE),
    dots("Null", pcaNull, GREY),
    dots("Positive", pcaPositive, RED),
    segments("PCA arrows", 0, 0, pcaArrows, { z: 5, color: "#000", width: 4, symbol: ["none", CLOSED_HEAD], symbolSize: 60 }),
    segments("PCA leaders", 0, 0, pcaKeyPoints.map(function (p, i) { return [pcaBoxAnchors[i], p]; }), { z: 3, colors: pcaKeyColors, width: 3 }),
    {
      name: "PCA events", type: "scatter", xAxisIndex: 0, yAxisIndex: 0, symbolSize: 30, z: 5, silent: true,
      data: pcaKeyPoints.map(function (p, i) { return { value: p, itemStyle: { color: pcaKeyColors[i], opacity: 1 } }; })
    },
    boxes("PCA boxes", 0, 0, pcaKeyNames, pcaBoxes, pcaKeyColors, { z: 6, fontSize: 57, border: 3, radius: 13, width: 76, height: 81 }),

    // inset
    {
      name: "Inset panel", type: "custom", xAxisIndex: 1, yAxisIndex: 1, data: [[-60, 28]], z: 7, silent: true, clip: false,
      renderItem: function (params) {
        var c = params.coordSys;
        return { type: "rect", shape: { x: c.x, y: c.y, width: c.width, height: c.height }, style: { fill: "#bdd2e0" } };
      }
    },
    gridLines("Inset grid", 1, 1, { xMajor: insetXTicks, xMinor: insetXMinor, yMajor: insetYTicks, yMinor: insetYMinor, major: 5, minor: 3 }, "#e8e8e8", 8),
    segments("Inset leaders", 1, 1, insetTips.map(function (p, i) { return [insetBoxes[i], p]; }), { z: 9, color: "#000", width: 3 }),
    trackLine("Track", trackAll, "#000", 7, 10),
    trackLine("Track heavy start", trackHeavyStart, "#000", 11, 10),
    trackLine("Track heavy loop", trackHeavyLoop, "#000", 10, 10),
    trackLine("Track heavy end", trackHeavyEnd, "#000", 10, 10),
    trackLine("Track positive A", trackRedA, RED, 4, 11),
    trackLine("Track positive B", trackRedB, RED, 4, 11),
    trackLine("Track positive C", trackRedC, RED, 4, 11),
    trackLine("Track negative", trackBlue, BLUE, 4, 11),
    trackLine("Track null", trackGrey, "#9a9a9a", 1.5, 11),
    boxes("Inset boxes", 1, 1, pcaKeyNames, insetBoxes, ["#000", "#000", "#000", "#000", "#000"], { z: 12, fontSize: 32, border: 3, radius: 12, width: 59, height: 60 }),
    frameOf("Inset frame", 1, 1, "#444", 3, 13),

    // intensity panel
    gridLines("Intensity grid", 2, 2, { xMajor: intensityTicks, xMinor: intensityMinor, yMajor: dayTicks, yMinor: dayMinor, major: 5, minor: 3 }, "#ebebeb", 1),
    {
      name: "Intensity", type: "line", xAxisIndex: 2, yAxisIndex: 2, data: pairUp(intensityKt, intensityDays), showSymbol: false, silent: true, z: 3,
      lineStyle: { color: "#000", width: 5, join: "miter" }
    },
    {
      name: "Marked", type: "scatter", xAxisIndex: 2, yAxisIndex: 2, data: pairUp(markedKt, markedDays), symbolSize: 22, z: 4, silent: true,
      itemStyle: { color: "#000", opacity: 1 }
    },
    segments("Intensity arrows", 2, 2, eventStarts.map(function (p, i) { return [p, eventTips[i]]; }), {
      z: 5, colors: eventColors, width: 5, symbol: ["none", OPEN_HEAD], symbolSize: 60
    }),
    boxes("Intensity boxes", 2, 2, eventNames, eventBoxes, eventColors, { z: 6, fontSize: 55, border: 3, radius: 12, width: 76, height: 76 }),

    // temperature panel
    heatSeries,
    gridLines("Missing scan", 3, 3, { xMajor: [], xMinor: [], yMajor: [missingScanDay], yMinor: [], major: 2, minor: 2 }, "#8a7a84", 3),
    frameOf("Heat frame", 3, 3, "#555", 3, 6),
    colourBarSeries
  ]
};

var chart = echarts.init(document.getElementById("chart"), null, { renderer: "canvas", width: 3691, height: 1468 });
chart.setOption(option);
</script>
</body>
</html>
